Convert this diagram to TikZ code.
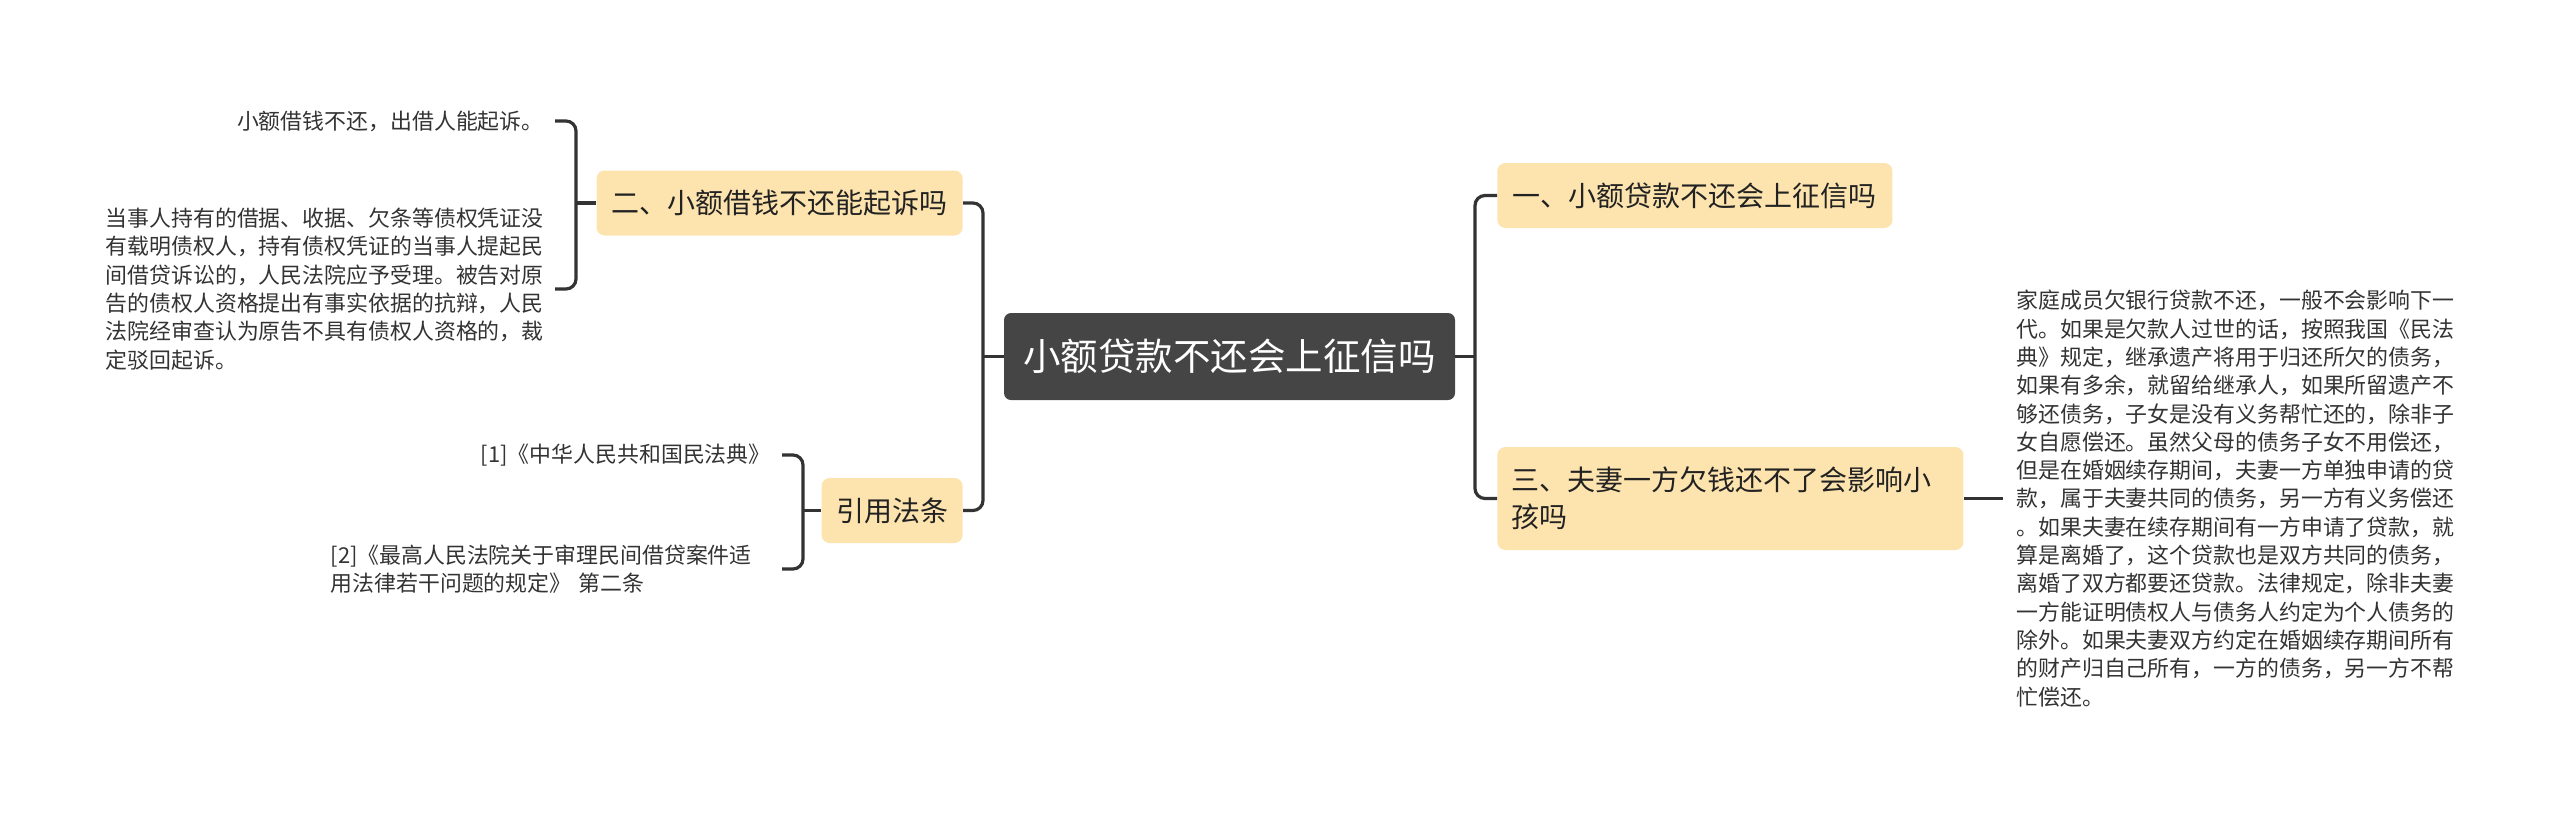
\documentclass[tikz,border=0pt]{standalone}
\usepackage{fontspec}
\setmainfont{Noto Sans CJK SC}
\usetikzlibrary{positioning}

\begin{document}
\begin{tikzpicture}[
    x=0.5pt, y=-0.5pt,
    every node/.style={inner sep=0pt, text=textoTema},
    % Estilo para el nodo central (caja gris oscura)
    nodoRaiz/.style={
        fill=grisRaiz, rounded corners=3.5pt, text=white,
        font=\fontsize{18.75pt}{22pt}\selectfont,
        minimum width=225.5pt, minimum height=43.5pt
    },
    % Estilo para los temas (cajas crema)
    nodoTema/.style={
        fill=cremaTema, rounded corners=4pt, inner xsep=7pt,
        font=\fontsize{14pt}{18.5pt}\selectfont,
        minimum height=32.5pt
    },
    % Estilo para las hojas de texto
    nodoHoja/.style={
        inner xsep=5.5pt, text=textoHoja,
        font=\fontsize{10.95pt}{14.15pt}\selectfont
    },
    % Estilo para los conectores
    conector/.style={
        line width=1.6pt, grisLinea, rounded corners=5pt
    }
]
    % --- DEFINICIÓN DE COLORES ---
    \definecolor{grisRaiz}{HTML}{454545}
    \definecolor{cremaTema}{HTML}{FDE4AF}
    \definecolor{grisLinea}{HTML}{333333}
    \definecolor{textoTema}{HTML}{222222}
    \definecolor{textoHoja}{HTML}{333333}

    \useasboundingbox (0,0) rectangle (2560,816);

    % 1. Nodo central
    \node[nodoRaiz] (raiz) at (1229.5, 356.5) {小额贷款不还会上征信吗};

    % 2. Temas
    \node[nodoTema, anchor=west, minimum width=197.5pt] (tema1) at (1497, 195.5)
        {一、小额贷款不还会上征信吗};
    \node[nodoTema, anchor=east, minimum width=183pt] (tema2) at (963, 203)
        {二、小额借钱不还能起诉吗};
    \node[nodoTema, anchor=west, align=left, text width=219pt, minimum height=51.5pt] (tema3) at (1497, 498.5)
        {三、夫妻一方欠钱还不了会影响小\\孩吗};
    \node[nodoTema, anchor=east, minimum width=70.5pt] (citas) at (963, 510.5) {引用法条};

    % 3. Hojas
    \node[nodoHoja, anchor=east] (hoja1) at (555, 121) {小额借钱不还，出借人能起诉。};
    \node[nodoHoja, anchor=east, align=left] (hoja2) at (555, 289)
        {当事人持有的借据、收据、欠条等债权凭证没\\
         有载明债权人，持有债权凭证的当事人提起民\\
         间借贷诉讼的，人民法院应予受理。被告对原\\
         告的债权人资格提出有事实依据的抗辩，人民\\
         法院经审查认为原告不具有债权人资格的，裁\\
         定驳回起诉。};
    \node[nodoHoja, anchor=west, align=left, inner xsep=6.5pt] (hoja3) at (2003, 498.5)
        {家庭成员欠银行贷款不还，一般不会影响下一\\
         代。如果是欠款人过世的话，按照我国《民法\\
         典》规定，继承遗产将用于归还所欠的债务，\\
         如果有多余，就留给继承人，如果所留遗产不\\
         够还债务，子女是没有义务帮忙还的，除非子\\
         女自愿偿还。虽然父母的债务子女不用偿还，\\
         但是在婚姻续存期间，夫妻一方单独申请的贷\\
         款，属于夫妻共同的债务，另一方有义务偿还\\
         。如果夫妻在续存期间有一方申请了贷款，就\\
         算是离婚了，这个贷款也是双方共同的债务，\\
         离婚了双方都要还贷款。法律规定，除非夫妻\\
         一方能证明债权人与债务人约定为个人债务的\\
         除外。如果夫妻双方约定在婚姻续存期间所有\\
         的财产归自己所有，一方的债务，另一方不帮\\
         忙偿还。};
    \node[nodoHoja, anchor=east] (cita1) at (782, 455) {[1]《中华人民共和国民法典》};
    \node[nodoHoja, anchor=east, align=left, text width=220pt] (cita2) at (782, 569)
        {[2]《最高人民法院关于审理民间借贷案件适\\用法律若干问题的规定》 第二条};

    % 4. Troncos
    \coordinate (nudoIzq) at (983, 356.5);
    \coordinate (nudoDer) at (1475, 356.5);
    \draw[conector] (tema2.east) -| (nudoIzq) |- (citas.east);
    \draw[conector] (raiz.west) -- (nudoIzq);
    \draw[conector] (tema1.west) -| (nudoDer) |- (tema3.west);
    \draw[conector] (raiz.east) -- (nudoDer);

    % 5. Llaves hacia las hojas
    \coordinate (llaveDos) at (576, 203);
    \coordinate (llaveCitas) at (803, 510.5);
    \draw[conector] (hoja1.east) -| (llaveDos) |- (hoja2.east);
    \draw[conector] (tema2.west) -- (llaveDos);
    \draw[conector] (cita1.east) -| (llaveCitas) |- (cita2.east);
    \draw[conector] (citas.west) -- (llaveCitas);
    \draw[conector] (tema3.east) -- (hoja3.west);

\end{tikzpicture}
\end{document}
